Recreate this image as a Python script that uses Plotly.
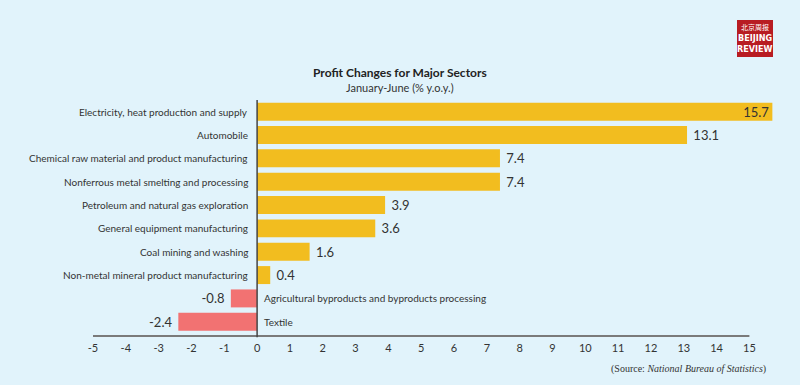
import plotly.graph_objects as go

categories = [
    "Electricity, heat production and supply",
    "Automobile",
    "Chemical raw material and product manufacturing",
    "Nonferrous metal smelting and processing",
    "Petroleum and natural gas exploration",
    "General equipment manufacturing",
    "Coal mining and washing",
    "Non-metal mineral product manufacturing",
    "Agricultural byproducts and byproducts processing",
    "Textile",
]
values = [15.7, 13.1, 7.4, 7.4, 3.9, 3.6, 1.6, 0.4, -0.8, -2.4]
x_ticks = list(range(-5, 16))

BG = "rgb(225,243,251)"
YELLOW = "#f2bd1f"
RED = "#f27272"
TXT = "#333333"

L, R, T, B = 93, 26, 100, 49
W, H = 800, 385
pw = W - L - R
ph = H - T - B


def px2x(px):
    return (px - L) / pw


def py2y(py):
    return (H - B - py) / ph


colors = [YELLOW if v >= 0 else RED for v in values]
textpos = ["inside" if v > 15 else "outside" for v in values]
labels = []
for v in values:
    if v > 15:
        labels.append(f"{v:.1f}")
    elif v >= 0:
        labels.append(f" {v:.1f}")
    else:
        labels.append(f"{v:.1f} ")

fig = go.Figure()
fig.add_trace(go.Bar(
    x=values, y=categories, orientation="h",
    marker=dict(color=colors, line=dict(width=0)),
    text=labels,
    textposition=textpos,
    insidetextanchor="end",
    textfont=dict(family="Lato", size=13, color=TXT),
    cliponaxis=False,
    hoverinfo="skip",
))

annotations = []
for c, v in zip(categories, values):
    if v >= 0:
        annotations.append(dict(x=0, y=c, xref="x", yref="y", text=c, showarrow=False,
                                xanchor="right", yanchor="middle", xshift=-7,
                                font=dict(family="Lato", size=10, color=TXT)))
    else:
        annotations.append(dict(x=0, y=c, xref="x", yref="y", text=c, showarrow=False,
                                xanchor="left", yanchor="middle", xshift=5,
                                font=dict(family="Lato", size=10, color=TXT)))

annotations += [
    dict(x=px2x(400), y=py2y(72), xref="paper", yref="paper", xanchor="center", yanchor="middle",
         text="<b>Profit Changes for Major Sectors</b>", showarrow=False,
         font=dict(family="Lato", size=12, color="#222")),
    dict(x=px2x(400), y=py2y(88), xref="paper", yref="paper", xanchor="center", yanchor="middle",
         text="January-June (% y.o.y.)", showarrow=False,
         font=dict(family="Lato", size=11, color=TXT)),
    dict(x=px2x(768), y=py2y(369), xref="paper", yref="paper", xanchor="right", yanchor="middle",
         text="(Source: <i>National Bureau of Statistics</i>)", showarrow=False,
         font=dict(family="Liberation Serif", size=10, color=TXT)),
    dict(x=px2x(755), y=py2y(27), xref="paper", yref="paper", xanchor="center", yanchor="middle",
         text="北京周报", showarrow=False,
         font=dict(family="Noto Sans CJK SC", size=7, color="white")),
    dict(x=px2x(755), y=py2y(38), xref="paper", yref="paper", xanchor="center", yanchor="middle",
         text="<b>BEIJING</b>", showarrow=False,
         font=dict(family="DejaVu Sans Condensed", size=9, color="white")),
    dict(x=px2x(755), y=py2y(49), xref="paper", yref="paper", xanchor="center", yanchor="middle",
         text="<b>REVIEW</b>", showarrow=False,
         font=dict(family="DejaVu Sans Condensed", size=9, color="white")),
]

shapes = [
    dict(type="rect", xref="paper", yref="paper", x0=px2x(737), x1=px2x(773), y0=py2y(57), y1=py2y(20),
         fillcolor="#b81c22", line=dict(width=0), layer="below"),
    dict(type="line", xref="x", yref="paper", x0=-5, x1=15, y0=0, y1=0,
         line=dict(color="#7a7a7a", width=2)),
    dict(type="line", xref="x", yref="paper", x0=0, x1=0, y0=-0.005, y1=1.0,
         line=dict(color="#444444", width=1.5)),
]

fig.update_layout(
    width=W, height=H,
    margin=dict(l=L, r=R, t=T, b=B),
    paper_bgcolor=BG, plot_bgcolor=BG,
    showlegend=False,
    bargap=0.23,
    uniformtext=dict(minsize=13, mode="show"),
    xaxis=dict(range=[-5, 15.75], tickvals=x_ticks, ticktext=[str(t) for t in x_ticks],
               showgrid=False, zeroline=False, showline=False, ticks="",
               tickfont=dict(family="Lato", size=11, color=TXT), ticklabelstandoff=4),
    yaxis=dict(type="category", categoryorder="array", categoryarray=categories,
               range=[9.61, -0.5], showticklabels=False, showgrid=False, zeroline=False,
               showline=False, ticks=""),
    annotations=annotations,
    shapes=shapes,
)

fig.write_html("out.html", config={"displayModeBar": False},
               post_script="document.body.style.margin='0';document.body.style.background='" + BG + "';")
